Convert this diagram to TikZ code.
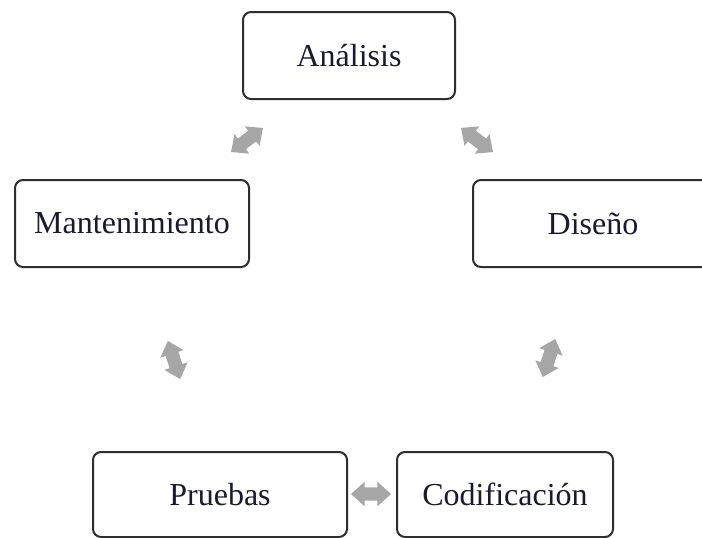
\documentclass[tikz,border=0pt]{standalone}
\usepackage{fontspec}
\setmainfont{Liberation Serif}
\usetikzlibrary{shapes.arrows}
\definecolor{boxline}{HTML}{2E2E2E}
\definecolor{arrowgray}{HTML}{A6A6A6}
\definecolor{labeltext}{HTML}{1A1A2E}
\begin{document}
\begin{tikzpicture}[x=1pt,y=-1pt,
  stage/.style={draw=boxline, line width=2pt, rounded corners=8pt, fill=white,
    text=labeltext, font=\fontsize{32}{38}\selectfont, inner sep=0pt,
    minimum height=87pt},
  cyclearrow/.style={double arrow, fill=arrowgray, draw=none,
    inner xsep=0pt, inner ysep=6.5pt,
    minimum height=40pt, double arrow head extend=5.5pt,
    double arrow tip angle=84}]
\useasboundingbox (0,0) rectangle (702,538);

% stages of the cycle
\node[stage, minimum width=212pt] (analisis) at (349,55.5) {Análisis};
\node[stage, minimum width=240pt] (diseno) at (593,223.5) {Diseño};
\node[stage, minimum width=216pt, minimum height=85pt] (codif) at (505,494.5) {Codificación};
\node[stage, minimum width=254pt, minimum height=85pt] (pruebas) at (220,494.5) {Pruebas};
\node[stage, minimum width=234pt] (manten) at (132,223.5) {Mantenimiento};

% double arrows between neighbouring stages
\node[cyclearrow, rotate=-37] (a1) at (477,140) {};
\node[cyclearrow, rotate=72] (a2) at (549,358) {};
\node[cyclearrow] (a3) at (371,494) {};
\node[cyclearrow, rotate=108] (a4) at (174,360) {};
\node[cyclearrow, rotate=37] (a5) at (247,140) {};
\end{tikzpicture}
\end{document}
